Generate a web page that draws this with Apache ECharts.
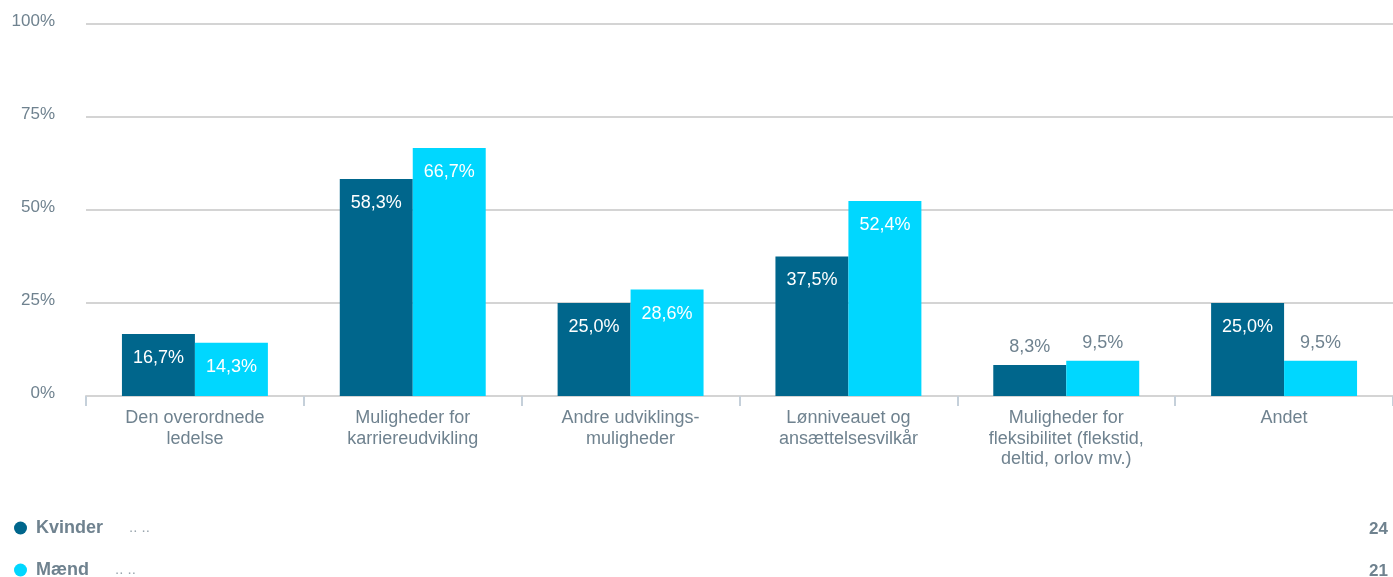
<!DOCTYPE html>
<html>
<head>
<meta charset="utf-8">
<script src="https://cdn.jsdelivr.net/npm/echarts@6/dist/echarts.min.js"></script>
<style>
  html, body { margin: 0; padding: 0; background: #fff; }
  #chart { width: 1393px; height: 577px; }
</style>
</head>
<body>
<div id="chart"></div>
<script>
const categories = [
  'Den overordnede\nledelse',
  'Muligheder for\nkarriereudvikling',
  'Andre udviklings-\nmuligheder',
  'Lønniveauet og\nansættelsesvilkår',
  'Muligheder for\nfleksibilitet (flekstid,\ndeltid, orlov mv.)',
  'Andet'
]
const seriesNames = ['Kvinder', 'Mænd']
const kvinder = [16.7, 58.3, 25.0, 37.5, 8.3, 25.0]
const maend = [14.3, 66.7, 28.6, 52.4, 9.5, 9.5]
const counts = [24, 21]
const colors = ['#00668c', '#00d7ff']

const gray = '#6f828f'
const font = 'Arial, Liberation Sans'
const fmt = (v) => v.toFixed(1).replace('.', ',') + '%'

function barData(values) {
  return values.map((v) => {
    if (v < 12) {
      return { value: v, label: { position: 'top', color: gray, distance: 9 } }
    }
    return v
  })
}

const chart = echarts.init(document.getElementById('chart'))

chart.setOption({
  animation: false,
  color: colors,
  grid: { left: 86, right: 0, top: 24, bottom: 181 },
  legend: seriesNames.map((name, i) => ({
    left: 9,
    top: 514 + i * 42,
    icon: 'circle',
    itemWidth: 13,
    itemHeight: 13,
    data: [name],
    selectedMode: false,
    formatter: (n) => `{b|${n}}{d|.. ..}`,
    textStyle: {
      rich: {
        b: { fontFamily: font, fontWeight: 'bold', fontSize: 18, color: gray, padding: [0, 26, 0, 4] },
        d: { fontFamily: font, fontSize: 15, color: '#9aa6ae' }
      }
    }
  })),
  graphic: counts.map((c, i) => ({
    type: 'text',
    right: 5,
    top: 521 + i * 42,
    style: {
      text: String(c),
      font: 'bold 17px Arial, "Liberation Sans"',
      fill: gray
    }
  })),
  xAxis: {
    type: 'category',
    data: categories,
    axisLine: { lineStyle: { color: '#d4d4d4', width: 2 } },
    axisTick: { show: true, length: 10, lineStyle: { color: '#c5d0da', width: 2 } },
    axisLabel: {
      color: gray,
      fontSize: 18,
      fontFamily: font,
      lineHeight: 20.5,
      margin: 12,
      interval: 0
    }
  },
  yAxis: {
    type: 'value',
    min: 0,
    max: 100,
    interval: 25,
    axisLabel: {
      formatter: '{t|{value}%}',
      margin: 31,
      rich: {
        t: { color: gray, fontSize: 17, fontFamily: font, padding: [0, 0, 5, 0] }
      }
    },
    splitLine: { lineStyle: { color: '#d4d4d4', width: 2 } }
  },
  series: [kvinder, maend].map((vals, i) => ({
    name: seriesNames[i],
    type: 'bar',
    data: barData(vals),
    barGap: '0%',
    barCategoryGap: '33%',
    label: {
      show: true,
      position: 'insideTop',
      distance: 15,
      color: '#fff',
      fontSize: 18,
      fontFamily: font,
      formatter: (p) => fmt(p.value)
    }
  }))
})
</script>
</body>
</html>
